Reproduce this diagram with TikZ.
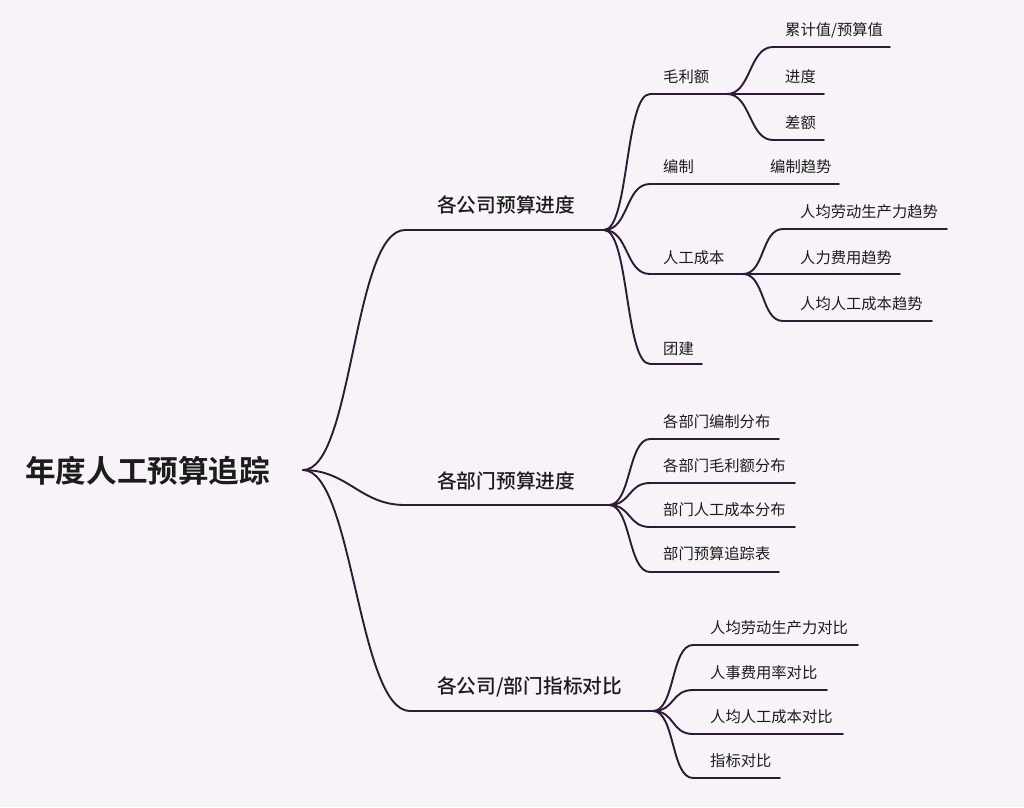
\documentclass[tikz,border=0pt]{standalone}
\usepackage{fontspec}
\newfontfamily\cjk{Noto Sans CJK SC}
\newfontfamily\cjkm{Noto Sans CJK SC Medium}
\newfontfamily\cjkb{Noto Sans CJK SC Bold}
\definecolor{bgc}{HTML}{F7F3F8}
\definecolor{linec}{HTML}{2E1A36}
\definecolor{txtc}{HTML}{1C1C1C}
\tikzset{
  edge/.style={draw=linec, line width=1.9pt, line cap=round},
  roottext/.style={anchor=west, inner sep=0pt, font=\cjkb\fontsize{30.6}{34}\selectfont, text=txtc},
  l1text/.style={anchor=west, inner sep=0pt, font=\cjkm\fontsize{19.7}{23}\selectfont, text=txtc},
  l2text/.style={anchor=west, inner sep=0pt, font=\cjk\fontsize{15.3}{18}\selectfont, text=txtc},
}
\begin{document}
\begin{tikzpicture}[x=1pt,y=-1pt]
\fill[bgc] (0,0) rectangle (1024,807);
\useasboundingbox (0,0) rectangle (1024,807);

% root
\node[roottext] (root) at (25,471) {年度人工预算追踪};
\coordinate (r) at (303,470);

% level 1
\node[l1text] (a) at (437,205) {各公司预算进度};
\node[l1text] (b) at (437,481) {各部门预算进度};
\node[l1text] (c) at (437,687) {各公司/部门指标对比};
\coordinate (as) at (405,230); \coordinate (ae) at (604,230);
\coordinate (bs) at (405,505); \coordinate (be) at (609,505);
\coordinate (cs) at (410,711); \coordinate (ce) at (653,711);

\draw[edge] (r) .. controls +(50,0) and +(-52,0) .. (as) -- (ae);
\draw[edge] (r) .. controls +(45,0) and +(-45,0) .. (bs) -- (be);
\draw[edge] (r) .. controls +(50,0) and +(-52,0) .. (cs) -- (ce);

% branch a children
\node[l2text] (a1) at (663,77) {毛利额};
\node[l2text] (a2) at (663,167) {编制};
\node[l2text] (a3) at (663,258) {人工成本};
\node[l2text] (a4) at (663,349) {团建};
\coordinate (a1s) at (650,94); \coordinate (a1e) at (727,94);
\coordinate (a2s) at (650,184); \coordinate (a2e) at (839,184);
\coordinate (a3s) at (650,274); \coordinate (a3e) at (743,274);
\coordinate (a4s) at (650,364); \coordinate (a4e) at (702,364);
\draw[edge] (ae) .. controls +(25,0) and +(-25,0) .. (a1s) -- (a1e);
\draw[edge] (ae) .. controls +(25,0) and +(-25,0) .. (a2s) -- (a2e);
\draw[edge] (ae) .. controls +(25,0) and +(-25,0) .. (a3s) -- (a3e);
\draw[edge] (ae) .. controls +(25,0) and +(-25,0) .. (a4s) -- (a4e);

% a1 children
\node[l2text] (a11) at (785,30) {累计值/预算值};
\node[l2text] (a12) at (785,77) {进度};
\node[l2text] (a13) at (785,123) {差额};
\coordinate (a11s) at (773,47); \coordinate (a11e) at (890,47);
\coordinate (a12e) at (824,94);
\coordinate (a13s) at (773,140); \coordinate (a13e) at (824,140);
\draw[edge] (a1e) .. controls +(24,0) and +(-24,0) .. (a11s) -- (a11e);
\draw[edge] (a1e) -- (a12e);
\draw[edge] (a1e) .. controls +(24,0) and +(-24,0) .. (a13s) -- (a13e);

% a2 child
\node[l2text] (a21) at (770,167) {编制趋势};

% a3 children
\node[l2text] (a31) at (800,212) {人均劳动生产力趋势};
\node[l2text] (a32) at (800,258) {人力费用趋势};
\node[l2text] (a33) at (800,304) {人均人工成本趋势};
\coordinate (a31s) at (783,229); \coordinate (a31e) at (947,229);
\coordinate (a32e) at (900,274);
\coordinate (a33s) at (783,321); \coordinate (a33e) at (932,321);
\draw[edge] (a3e) .. controls +(22,0) and +(-22,0) .. (a31s) -- (a31e);
\draw[edge] (a3e) -- (a32e);
\draw[edge] (a3e) .. controls +(22,0) and +(-22,0) .. (a33s) -- (a33e);

% branch b children
\node[l2text] (b1) at (663,422) {各部门编制分布};
\node[l2text] (b2) at (663,466) {各部门毛利额分布};
\node[l2text] (b3) at (663,510) {部门人工成本分布};
\node[l2text] (b4) at (663,554) {部门预算追踪表};
\coordinate (b1s) at (650,439); \coordinate (b1e) at (779,439);
\coordinate (b2s) at (650,483); \coordinate (b2e) at (795,483);
\coordinate (b3s) at (650,527); \coordinate (b3e) at (795,527);
\coordinate (b4s) at (650,572); \coordinate (b4e) at (779,572);
\draw[edge] (be) .. controls +(22,0) and +(-22,0) .. (b1s) -- (b1e);
\draw[edge] (be) .. controls +(22,0) and +(-22,0) .. (b2s) -- (b2e);
\draw[edge] (be) .. controls +(22,0) and +(-22,0) .. (b3s) -- (b3e);
\draw[edge] (be) .. controls +(22,0) and +(-22,0) .. (b4s) -- (b4e);

% branch c children
\node[l2text] (c1) at (710,628) {人均劳动生产力对比};
\node[l2text] (c2) at (710,673) {人事费用率对比};
\node[l2text] (c3) at (710,717) {人均人工成本对比};
\node[l2text] (c4) at (710,761) {指标对比};
\coordinate (c1s) at (693,645); \coordinate (c1e) at (858,645);
\coordinate (c2s) at (693,690); \coordinate (c2e) at (827,690);
\coordinate (c3s) at (693,734); \coordinate (c3e) at (843,734);
\coordinate (c4s) at (693,778); \coordinate (c4e) at (780,778);
\draw[edge] (ce) .. controls +(22,0) and +(-22,0) .. (c1s) -- (c1e);
\draw[edge] (ce) .. controls +(22,0) and +(-22,0) .. (c2s) -- (c2e);
\draw[edge] (ce) .. controls +(22,0) and +(-22,0) .. (c3s) -- (c3e);
\draw[edge] (ce) .. controls +(22,0) and +(-22,0) .. (c4s) -- (c4e);
\end{tikzpicture}
\end{document}
